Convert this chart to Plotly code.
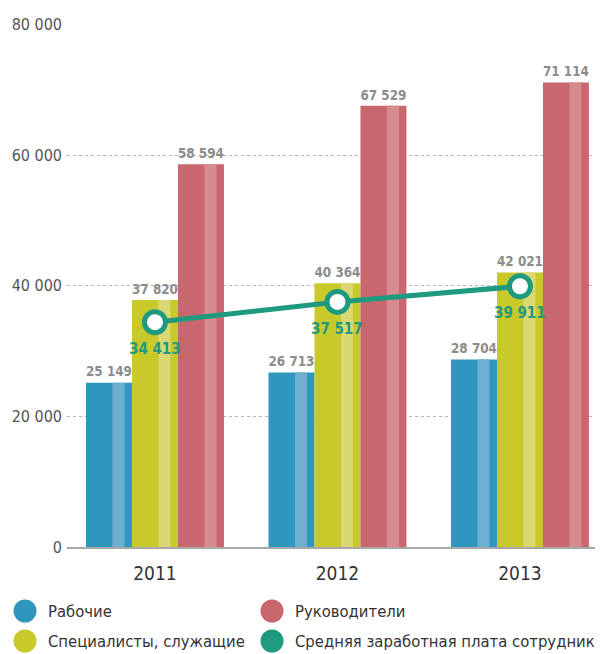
import plotly.graph_objects as go

years = ["2011", "2012", "2013"]
workers = [25149, 26713, 28704]
specialists = [37820, 40364, 42021]
managers = [58594, 67529, 71114]
average = [34413, 37517, 39911]

names = ["Рабочие", "Специалисты, служащие", "Руководители",
         "Средняя заработная плата сотрудников"]
y_ticks = [0, 20000, 40000, 60000, 80000]

FONT = "DejaVu Sans Condensed, Liberation Sans Narrow, Roboto, sans-serif"
BLUE, BLUE_L = "#2f97bd", "#6eafcf"
YELLOW, YELLOW_L = "#c8c92b", "#d9d872"
RED, RED_L = "#c9676f", "#d68b90"
GREEN = "#1f9a7e"
LABEL_GRAY = "#8c8c8c"

# page body has an 8px margin, so the figure is drawn 8px in from the corner
PAGE_OFF = 8
W, H = 603 - PAGE_OFF, 654 - PAGE_OFF
M_L, M_T, M_B = 67 - PAGE_OFF, 24 - PAGE_OFF, 107
PW, PH = W - M_L, H - M_T - M_B

BAR_W = 0.252
STRIPE_OFF = 0.145
STRIPE_W = 0.066


def fmt(v):
    return f"{v:,}".replace(",", " ")


fig = go.Figure()

series = [
    (workers, BLUE, BLUE_L, -1.5 * BAR_W),
    (specialists, YELLOW, YELLOW_L, -0.5 * BAR_W),
    (managers, RED, RED_L, 0.5 * BAR_W),
]
for vals, col, col_l, off in series:
    fig.add_trace(go.Bar(
        x=years, y=vals, width=BAR_W, offset=off,
        marker=dict(color=col, line_width=0),
        text=[fmt(v) for v in vals], textposition="outside",
        textfont=dict(family=FONT, size=16, color=LABEL_GRAY, weight="bold"),
        cliponaxis=False, showlegend=False, hoverinfo="skip",
    ))
    fig.add_trace(go.Bar(
        x=years, y=vals, width=STRIPE_W, offset=off + STRIPE_OFF,
        marker=dict(color=col_l, line_width=0),
        showlegend=False, hoverinfo="skip",
    ))

fig.add_trace(go.Scatter(
    x=years, y=average, mode="lines+markers",
    line=dict(color=GREEN, width=5),
    marker=dict(size=21, color="white", line=dict(color=GREEN, width=5)),
    cliponaxis=False, showlegend=False,
))
for i, v in enumerate(average):
    fig.add_annotation(
        x=i, y=v, text=f"<b>{fmt(v)}</b>", showarrow=False, yshift=-27,
        font=dict(family=FONT, size=15, color=GREEN),
    )

# hand-placed legend (round swatches, two columns); positions in page pixels
legend_items = [(names[0], BLUE, 25, 611), (names[2], RED, 272, 611),
                (names[1], YELLOW, 25, 641), (names[3], GREEN, 272, 641)]
for name, col, px, py in legend_items:
    xp = (px - PAGE_OFF - M_L) / PW
    yp = (H - M_B - (py - PAGE_OFF)) / PH
    fig.add_shape(
        type="circle", xref="paper", yref="paper",
        xsizemode="pixel", ysizemode="pixel", xanchor=xp, yanchor=yp,
        x0=-11.5, x1=11.5, y0=-11.5, y1=11.5,
        fillcolor=col, line_width=0,
    )
    fig.add_annotation(
        xref="paper", yref="paper", x=xp + 21 / PW, y=yp,
        xanchor="left", yanchor="middle", text=name, showarrow=False,
        font=dict(family=FONT, size=16.5, color="#333"),
    )

fig.update_layout(
    width=W, height=H,
    margin=dict(l=M_L, r=0, t=M_T, b=M_B),
    barmode="overlay", showlegend=False,
    plot_bgcolor="white", paper_bgcolor="white",
    font=dict(family=FONT, color="#333"),
    xaxis=dict(
        type="category", range=[-0.482, 2.455], automargin=False,
        showline=True, linecolor="#a8a8a8", linewidth=2,
        showgrid=False, ticks="", ticklabelstandoff=8,
        tickfont=dict(family=FONT, size=19, color="#333"),
    ),
    yaxis=dict(
        range=[0, 80060], tickvals=y_ticks, automargin=False,
        ticktext=[fmt(v) for v in y_ticks],
        showgrid=True, gridcolor="#b5b5b5", griddash="dot", gridwidth=1,
        zeroline=False, ticks="", ticklabelstandoff=4,
        tickfont=dict(family=FONT, size=16, color="#555"),
    ),
)

fig.write_html("out.html")
